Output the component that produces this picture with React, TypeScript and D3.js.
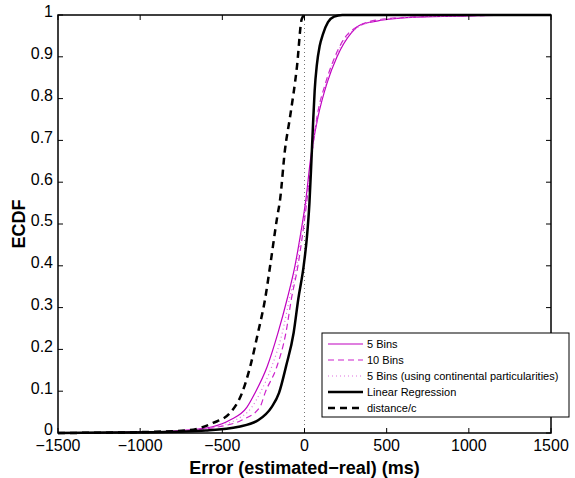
import React from "react";
import * as d3 from "d3";

// ---- data (x = error in ms, p = ECDF) ----
const lrX = [-1500, -1200, -900, -600, -400, -280, -200, -155, -112, -66, -38, -5, 15, 30, 42, 52, 62, 75, 92, 113, 143, 180, 230, 1500];
const lrP = [0, 0.001, 0.002, 0.006, 0.015, 0.031, 0.062, 0.096, 0.16, 0.24, 0.32, 0.40, 0.47, 0.55, 0.65, 0.74, 0.82, 0.88, 0.925, 0.955, 0.983, 0.996, 1, 1];

const m5X = [-1500, -1450, -1000, -750, -560, -453, -350, -301, -228, -161, -106, -58, -22, 8, 36, 82, 137, 198, 285, 339, 479, 685, 1000, 1350, 1500];
const m5P = [0, 0.0005, 0.002, 0.006, 0.015, 0.031, 0.062, 0.096, 0.158, 0.24, 0.32, 0.40, 0.48, 0.557, 0.653, 0.756, 0.837, 0.9, 0.957, 0.976, 0.988, 0.995, 0.998, 1, 1];

const m10X = [-1500, -1400, -1000, -700, -520, -380, -271, -240, -169, -113, -80, -40, -10, 15, 48, 76, 128, 185, 270, 440, 650, 1000, 1300, 1500];
const m10P = [0, 0.0005, 0.002, 0.006, 0.015, 0.031, 0.062, 0.096, 0.158, 0.24, 0.32, 0.40, 0.48, 0.557, 0.677, 0.756, 0.837, 0.9, 0.957, 0.988, 0.995, 0.998, 1, 1];

const mcX = [-1500, -1400, -1000, -720, -540, -420, -320, -270, -200, -135, -92, -48, -18, 14, 50, 79, 132, 190, 278, 455, 670, 1000, 1300, 1500];
const mcP = [0, 0.0005, 0.002, 0.006, 0.015, 0.031, 0.062, 0.096, 0.158, 0.24, 0.32, 0.40, 0.48, 0.557, 0.677, 0.756, 0.837, 0.9, 0.957, 0.988, 0.995, 0.998, 1, 1];

const dcX = [-1500, -1300, -1000, -697, -557, -453, -380, -331, -283, -240, -209, -166, -149, -119, -88, -46, -17, 0];
const dcP = [0, 0.0005, 0.002, 0.007, 0.024, 0.048, 0.096, 0.158, 0.24, 0.32, 0.4, 0.517, 0.557, 0.677, 0.756, 0.876, 0.99, 1];

const refX = [0, 0];
const refP = [0, 1];

const xTicks = [-1500, -1000, -500, 0, 500, 1000, 1500];
const yTicks = [0, 0.1, 0.2, 0.3, 0.4, 0.5, 0.6, 0.7, 0.8, 0.9, 1];

const legendLabels = [
  "5 Bins",
  "10 Bins",
  "5 Bins (using continental particularities)",
  "Linear Regression",
  "distance/c",
];

const MAG = "#c000c0";

export default function App() {
  const W = 575, H = 478;
  const L = 58, R = 551, T = 15, B = 433;
  const x = d3.scaleLinear().domain([-1500, 1500]).range([L, R]);
  const y = d3.scaleLinear().domain([0, 1]).range([B, T]);
  const line = d3
    .line<[number, number]>()
    .x((d) => x(d[0]))
    .y((d) => y(d[1]))
    .curve(d3.curveMonotoneX);
  const straight = d3
    .line<[number, number]>()
    .x((d) => x(d[0]))
    .y((d) => y(d[1]));
  const zip = (a: number[], b: number[]) => a.map((v, i) => [v, b[i]] as [number, number]);

  const series = [
    { pts: zip(m5X, m5P), color: MAG, w: 1.2, dash: "none" },
    { pts: zip(m10X, m10P), color: "#cc22cc", w: 1.2, dash: "6,4" },
    { pts: zip(mcX, mcP), color: "#e070e0", w: 1.2, dash: "1,3" },
    { pts: zip(lrX, lrP), color: "#000", w: 2.5, dash: "none" },
    { pts: zip(dcX, dcP), color: "#000", w: 2.5, dash: "7,5" },
  ];

  const font = "'Liberation Sans', Arial, Helvetica, sans-serif";
  const tickLen = 5;
  const legY0 = 344, legDy = 16;

  return (
    <svg width={W} height={H} style={{ position: "absolute", left: 0, top: 0, background: "#fff" }} fontFamily={font}>
      <rect x={0} y={0} width={W} height={H} fill="#fff" />
      {/* reference dotted line at 0 */}
      <path d={straight(zip(refX, refP)) || ""} stroke="#777" strokeWidth={1} strokeDasharray="1,3" fill="none" />
      {series.map((s, i) => (
        <path key={i} d={line(s.pts) || ""} stroke={s.color} strokeWidth={s.w} strokeDasharray={s.dash} fill="none" />
      ))}
      {/* axes box */}
      <rect x={L} y={T} width={R - L} height={B - T} fill="none" stroke="#000" strokeWidth={1.5} />
      {xTicks.map((t) => (
        <g key={"x" + t}>
          <line x1={x(t)} x2={x(t)} y1={B} y2={B - tickLen} stroke="#000" strokeWidth={1} />
          <line x1={x(t)} x2={x(t)} y1={T} y2={T + tickLen} stroke="#000" strokeWidth={1} />
          <text x={x(t)} y={451} fontSize={16} textAnchor="middle">
            {t < 0 ? "\u2212" + Math.abs(t) : String(t)}
          </text>
        </g>
      ))}
      {yTicks.map((t) => (
        <g key={"y" + t}>
          <line x1={L} x2={L + tickLen} y1={y(t)} y2={y(t)} stroke="#000" strokeWidth={1} />
          <line x1={R} x2={R - tickLen} y1={y(t)} y2={y(t)} stroke="#000" strokeWidth={1} />
          <text x={53} y={y(t)} dy="0.15em" fontSize={16} textAnchor="end">
            {String(t)}
          </text>
        </g>
      ))}
      <text x={(L + R) / 2} y={474} fontSize={18} fontWeight="bold" textAnchor="middle">
        Error (estimated{"\u2212"}real) (ms)
      </text>
      <text transform={`translate(25,${(T + B) / 2}) rotate(-90)`} fontSize={18} fontWeight="bold" textAnchor="middle">
        ECDF
      </text>
      {/* legend */}
      <rect x={322} y={333} width={247} height={84} fill="#fff" stroke="#000" strokeWidth={1} />
      {series.map((s, i) => (
        <g key={"l" + i}>
          <line x1={328} x2={363} y1={legY0 + i * legDy} y2={legY0 + i * legDy} stroke={s.color} strokeWidth={s.w} strokeDasharray={s.dash} />
          <text x={367} y={legY0 + i * legDy} dy="0.35em" fontSize={11}>
            {legendLabels[i]}
          </text>
        </g>
      ))}
    </svg>
  );
}
